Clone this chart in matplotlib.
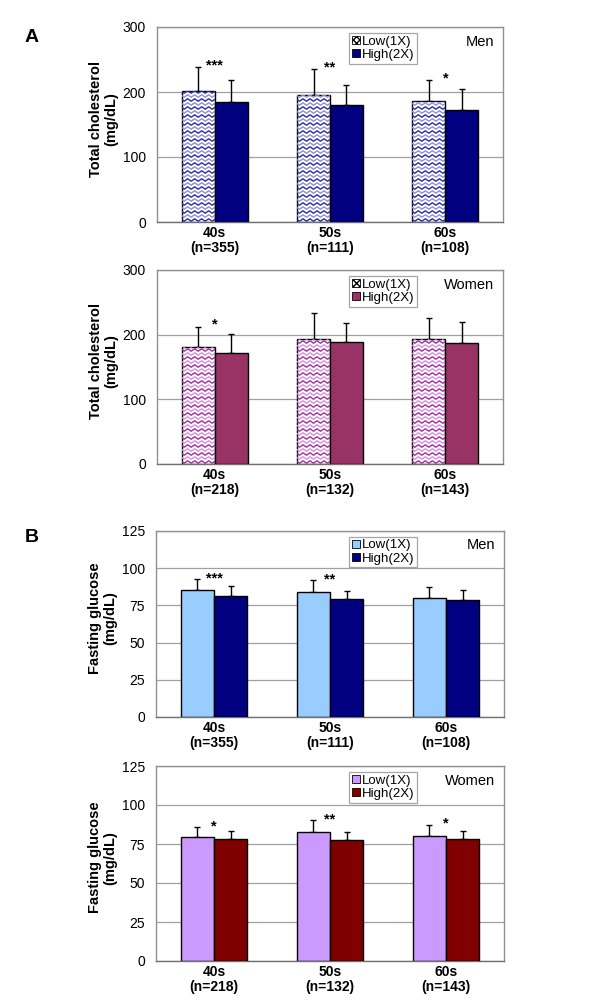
import matplotlib
matplotlib.use("Agg")
import matplotlib.pyplot as plt
import numpy as np
from matplotlib.patches import Patch

plt.rcParams["font.family"] = ["Liberation Sans", "DejaVu Sans"]

groups = ["40s", "50s", "60s"]
n_men = [355, 111, 108]
n_women = [218, 132, 143]

# total cholesterol (mg/dL): mean and SD
tc_men_low = [202, 195, 186]
tc_men_low_sd = [36, 40, 32]
tc_men_high = [184, 180, 172]
tc_men_high_sd = [34, 31, 32]
tc_women_low = [181, 193, 194]
tc_women_low_sd = [31, 40, 32]
tc_women_high = [171, 189, 187]
tc_women_high_sd = [30, 29, 32]

# fasting glucose (mg/dL)
fg_men_low = [85.2, 84.3, 80.3]
fg_men_low_sd = [7.4, 7.7, 7.0]
fg_men_high = [81.4, 79.6, 78.9]
fg_men_high_sd = [6.9, 5.4, 6.3]
fg_women_low = [79.6, 82.7, 80.1]
fg_women_low_sd = [6.1, 7.5, 7.1]
fg_women_high = [78.2, 77.5, 78.0]
fg_women_high_sd = [5.1, 5.2, 5.5]

sig_tc_men = ["***", "**", "*"]
sig_tc_women = ["*", "", ""]
sig_fg_men = ["***", "**", ""]
sig_fg_women = ["*", "**", "*"]

W, H = 600, 1008
fig = plt.figure(figsize=(W / 100, H / 100), dpi=100)


def add_axes(left, top, right, bottom):
    return fig.add_axes([left / W, 1 - bottom / H, (right - left) / W, (bottom - top) / H])


def zigzag_fill(ax, bar, colors, ax_px):
    # wavy pattern drawn as lines clipped to the bar
    x0, x1 = ax.get_xlim()
    y0, y1 = ax.get_ylim()
    sx = (x1 - x0) / ax_px[0]
    sy = (y1 - y0) / ax_px[1]
    bx, by = bar.get_x(), bar.get_y()
    bw, bh = bar.get_width(), bar.get_height()
    xs = np.arange(bx - 8 * sx, bx + bw + 8 * sx, 3.5 * sx)
    amp = np.where(np.arange(len(xs)) % 2 == 0, 1.2, -1.2) * sy
    k = 0
    yy = by + 2 * sy
    while yy < by + bh + 5 * sy:
        ln, = ax.plot(xs, yy + amp, color=colors[k % 2], lw=1.0, zorder=2.5)
        ln.set_clip_path(bar)
        yy += 4.0 * sy
        k += 1


def panel(box, low, low_sd, high, high_sd, ns, sig, ymax, ystep, ylabel,
          low_color, high_color, title, pattern=None, sig_off=0):
    left, top, right, bottom = box
    ax = add_axes(left, top, right, bottom)
    x = np.arange(len(groups))
    w = 0.286
    ax.set_xlim(-0.5, len(groups) - 0.5)
    ax.set_ylim(0, ymax)
    b1 = ax.bar(x - w / 2, low, w, color="white" if pattern else low_color,
                edgecolor="black", lw=1, zorder=2)
    ax.bar(x + w / 2, high, w, color=high_color, edgecolor="black", lw=1, zorder=3)
    if pattern:
        for b in b1:
            zigzag_fill(ax, b, pattern, (right - left, bottom - top))
    ax.errorbar(x - w / 2, low, yerr=[np.zeros(len(x)), low_sd], fmt="none",
                ecolor="black", elinewidth=1, capsize=2.2, capthick=1, zorder=1)
    ax.errorbar(x + w / 2, high, yerr=[np.zeros(len(x)), high_sd], fmt="none",
                ecolor="black", elinewidth=1, capsize=2.2, capthick=1, zorder=1)
    for i, s in enumerate(sig):
        if s:
            ax.text(i, low[i] + low_sd[i] + sig_off, s, ha="center", va="center",
                    fontsize=10.5, fontweight="bold")
    ax.set_yticks(np.arange(0, ymax + 1, ystep))
    ax.yaxis.grid(True, color="#a0a0a0", lw=0.9)
    ax.set_axisbelow(True)
    ax.tick_params(axis="y", length=0, labelsize=10, pad=8)
    ax.tick_params(axis="x", length=0, labelsize=10, pad=3)
    ax.set_xticks(x)
    ax.set_xticklabels([f"{g}\n(n={n})" for g, n in zip(groups, ns)],
                       fontweight="bold", linespacing=1.05)
    for sp in ax.spines.values():
        sp.set_color("#909090")
        sp.set_linewidth(1)
    ax.spines["bottom"].set_color("#707070")
    ax.set_ylabel(ylabel, fontsize=10.5, fontweight="bold", linespacing=1.1)
    ax.yaxis.set_label_coords(-39 / (right - left), 0.53)
    if pattern:
        lh = Patch(facecolor="white", edgecolor="black", hatch="xxxxx", lw=0.6)
    else:
        lh = Patch(facecolor=low_color, edgecolor="black", lw=0.6)
    hh = Patch(facecolor=high_color, edgecolor="black", lw=0.6)
    leg = ax.legend([lh, hh], ["Low(1X)", "High(2X)"], loc="upper left",
                    bbox_to_anchor=(0.555, 0.97), borderaxespad=0, fontsize=9.5,
                    frameon=True, fancybox=False, handlelength=0.6, handleheight=0.6,
                    handletextpad=0.15, borderpad=0.22, labelspacing=0.08)
    leg.get_frame().set_edgecolor("#909090")
    leg.get_frame().set_linewidth(0.9)
    ax.text(0.975, 0.925, title, transform=ax.transAxes, ha="right", va="center", fontsize=10.5)
    return ax


panel((157, 27, 503, 222), tc_men_low, tc_men_low_sd, tc_men_high, tc_men_high_sd,
      n_men, sig_tc_men, 300, 100, "Total cholesterol\n(mg/dL)", "white", "#000080",
      "Men", pattern=("#2a2aa8", "#9090d0"), sig_off=3)
panel((157, 270, 503, 464), tc_women_low, tc_women_low_sd, tc_women_high, tc_women_high_sd,
      n_women, sig_tc_women, 300, 100, "Total cholesterol\n(mg/dL)", "white", "#993366",
      "Women", pattern=("#a02ca0", "#d890d8"), sig_off=3)
panel((156, 531, 504, 717), fg_men_low, fg_men_low_sd, fg_men_high, fg_men_high_sd,
      n_men, sig_fg_men, 125, 25, "Fasting glucose\n(mg/dL)", "#99ccff", "#000080",
      "Men", sig_off=0.5)
panel((156, 766, 504, 961), fg_women_low, fg_women_low_sd, fg_women_high, fg_women_high_sd,
      n_women, sig_fg_women, 125, 25, "Fasting glucose\n(mg/dL)", "#cc99ff", "#800000",
      "Women", sig_off=0.8)

fig.text(25 / W, 1 - 38 / H, "A", fontsize=14, fontweight="bold", ha="left", va="center")
fig.text(25 / W, 1 - 538 / H, "B", fontsize=14, fontweight="bold", ha="left", va="center")

fig.savefig("out.png", dpi=100)
